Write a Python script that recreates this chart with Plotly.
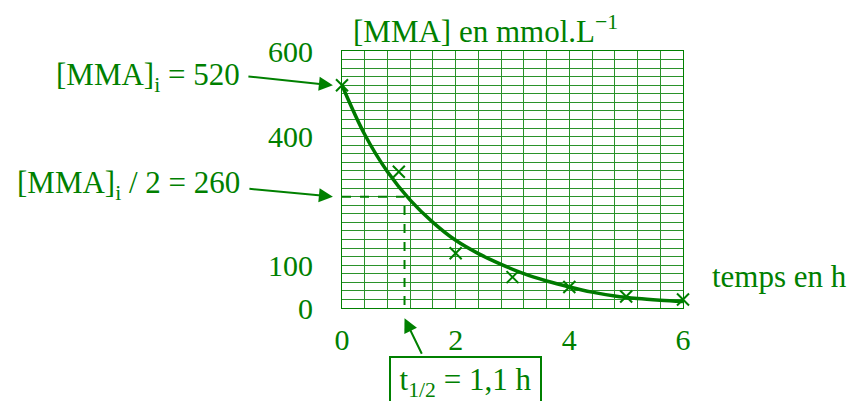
import plotly.graph_objects as go

# measured points (crosses)
t_points = [0, 1, 2, 3, 4, 5, 6]
c_points = [520, 318, 128, 72, 49, 27, 20]

# fitted curve
t_curve = [0, 0.4, 0.8, 1.2, 1.6, 2.0, 2.4, 2.8, 3.2, 3.6, 4.0, 4.4, 4.8, 5.2, 5.6, 6.0]
c_curve = [520, 405, 318, 252, 200, 158, 127, 102, 80, 63, 49, 37, 28, 22, 18, 15]

# half-life construction
c_initial = 520
c_half = 260
t_half = 1.1

x_ticks = [0, 2, 4, 6]
y_ticks = [0, 100, 400, 600]

X_MAX = 6
Y_MAX = 600

GREEN = "#008000"
FONT = "Liberation Serif"
FS = 30
FS_ANN = 31

fig = go.Figure()

# dashed construction lines
fig.add_trace(go.Scatter(x=[0, t_half, t_half], y=[c_half, c_half, 0], mode="lines",
                         line=dict(color=GREEN, width=2, dash="dash"), hoverinfo="skip",
                         showlegend=False, cliponaxis=False))
# curve
fig.add_trace(go.Scatter(x=t_curve, y=c_curve, mode="lines",
                         line=dict(color="#007a00", width=3.5, shape="spline"),
                         showlegend=False, cliponaxis=False))
# points
fig.add_trace(go.Scatter(x=t_points, y=c_points, mode="markers",
                         marker=dict(symbol="x-thin", size=12, line=dict(color=GREEN, width=2)),
                         showlegend=False, cliponaxis=False))
# invisible trace for label axes
fig.add_trace(go.Scatter(x=[0], y=[0], xaxis="x2", yaxis="y2", mode="markers",
                         marker=dict(opacity=0), showlegend=False, hoverinfo="skip"))

grid_col = "#2a922a"
fig.update_layout(
    width=853, height=401,
    margin=dict(l=342, r=170, t=51, b=93),
    paper_bgcolor="white", plot_bgcolor="white",
    font=dict(family=FONT, size=FS, color=GREEN),
    xaxis=dict(range=[0, X_MAX], tickmode="linear", tick0=0, dtick=0.4, showticklabels=False,
               showgrid=True, gridcolor=grid_col, gridwidth=1, zeroline=False,
               showline=True, mirror=True, linecolor=GREEN, linewidth=1, ticks=""),
    yaxis=dict(range=[0, Y_MAX], tickmode="linear", tick0=0, dtick=20, showticklabels=False,
               showgrid=True, gridcolor=grid_col, gridwidth=1, zeroline=False,
               showline=True, mirror=True, linecolor=GREEN, linewidth=1, ticks=""),
    xaxis2=dict(overlaying="x", side="bottom", range=[0, X_MAX], tickmode="array",
                tickvals=x_ticks, ticktext=[str(v) for v in x_ticks], showgrid=False,
                zeroline=False, showline=False, ticks="", ticklabelstandoff=11,
                tickfont=dict(family=FONT, size=FS, color=GREEN)),
    yaxis2=dict(overlaying="y", side="left", range=[0, Y_MAX], tickmode="array",
                tickvals=y_ticks, ticktext=[str(v) for v in y_ticks], showgrid=False,
                zeroline=False, showline=False, ticks="", ticklabelstandoff=28,
                tickfont=dict(family=FONT, size=FS, color=GREEN)),
)

ann_font = dict(family=FONT, size=FS_ANN, color=GREEN)


def px(v):
    # horizontal pixel -> paper fraction
    return (v - 342) / 341


def py(v):
    # vertical pixel -> paper fraction
    return (308 - v) / 257


# title of y axis
fig.add_annotation(x=px(351), y=py(29), xref="paper", yref="paper", xanchor="left",
                   yanchor="middle", text="[MMA] en mmol.L<sup>−1</sup>", showarrow=False,
                   font=ann_font)
# x axis title
fig.add_annotation(x=px(710), y=py(276), xref="paper", yref="paper", xanchor="left",
                   yanchor="middle", text="temps en h", showarrow=False, font=ann_font)
# labels
fig.add_annotation(x=px(242), y=py(77), xref="paper", yref="paper", xanchor="right",
                   yanchor="middle", text="[MMA]<sub>i</sub> = " + str(c_initial),
                   showarrow=False, font=ann_font)
fig.add_annotation(x=px(242), y=py(185), xref="paper", yref="paper", xanchor="right",
                   yanchor="middle", text="[MMA]<sub>i</sub> / 2 = " + str(c_half),
                   showarrow=False, font=ann_font)
fig.add_annotation(x=px(465.5), y=py(382), xref="paper", yref="paper", xanchor="center",
                   yanchor="middle",
                   text="t<sub>1/2</sub> = " + str(t_half).replace(".", ",") + " h",
                   showarrow=False, font=ann_font, bordercolor=GREEN, borderwidth=2,
                   borderpad=4, width=141, height=40, valign="middle")
# arrows (heads given in data units, converted to paper fractions)
arrow = dict(showarrow=True, arrowhead=2, arrowsize=1.4, arrowwidth=2, arrowcolor=GREEN,
             text="", xref="paper", yref="paper", axref="pixel", ayref="pixel")
fig.add_annotation(x=-0.16 / X_MAX, y=c_initial / Y_MAX, ax=-86, ay=-9, **arrow)
fig.add_annotation(x=-0.16 / X_MAX, y=c_half / Y_MAX, ax=-85, ay=-8, **arrow)
fig.add_annotation(x=t_half / X_MAX, y=-24 / Y_MAX, ax=18, ay=37, **arrow)

fig.write_html("out.html")
